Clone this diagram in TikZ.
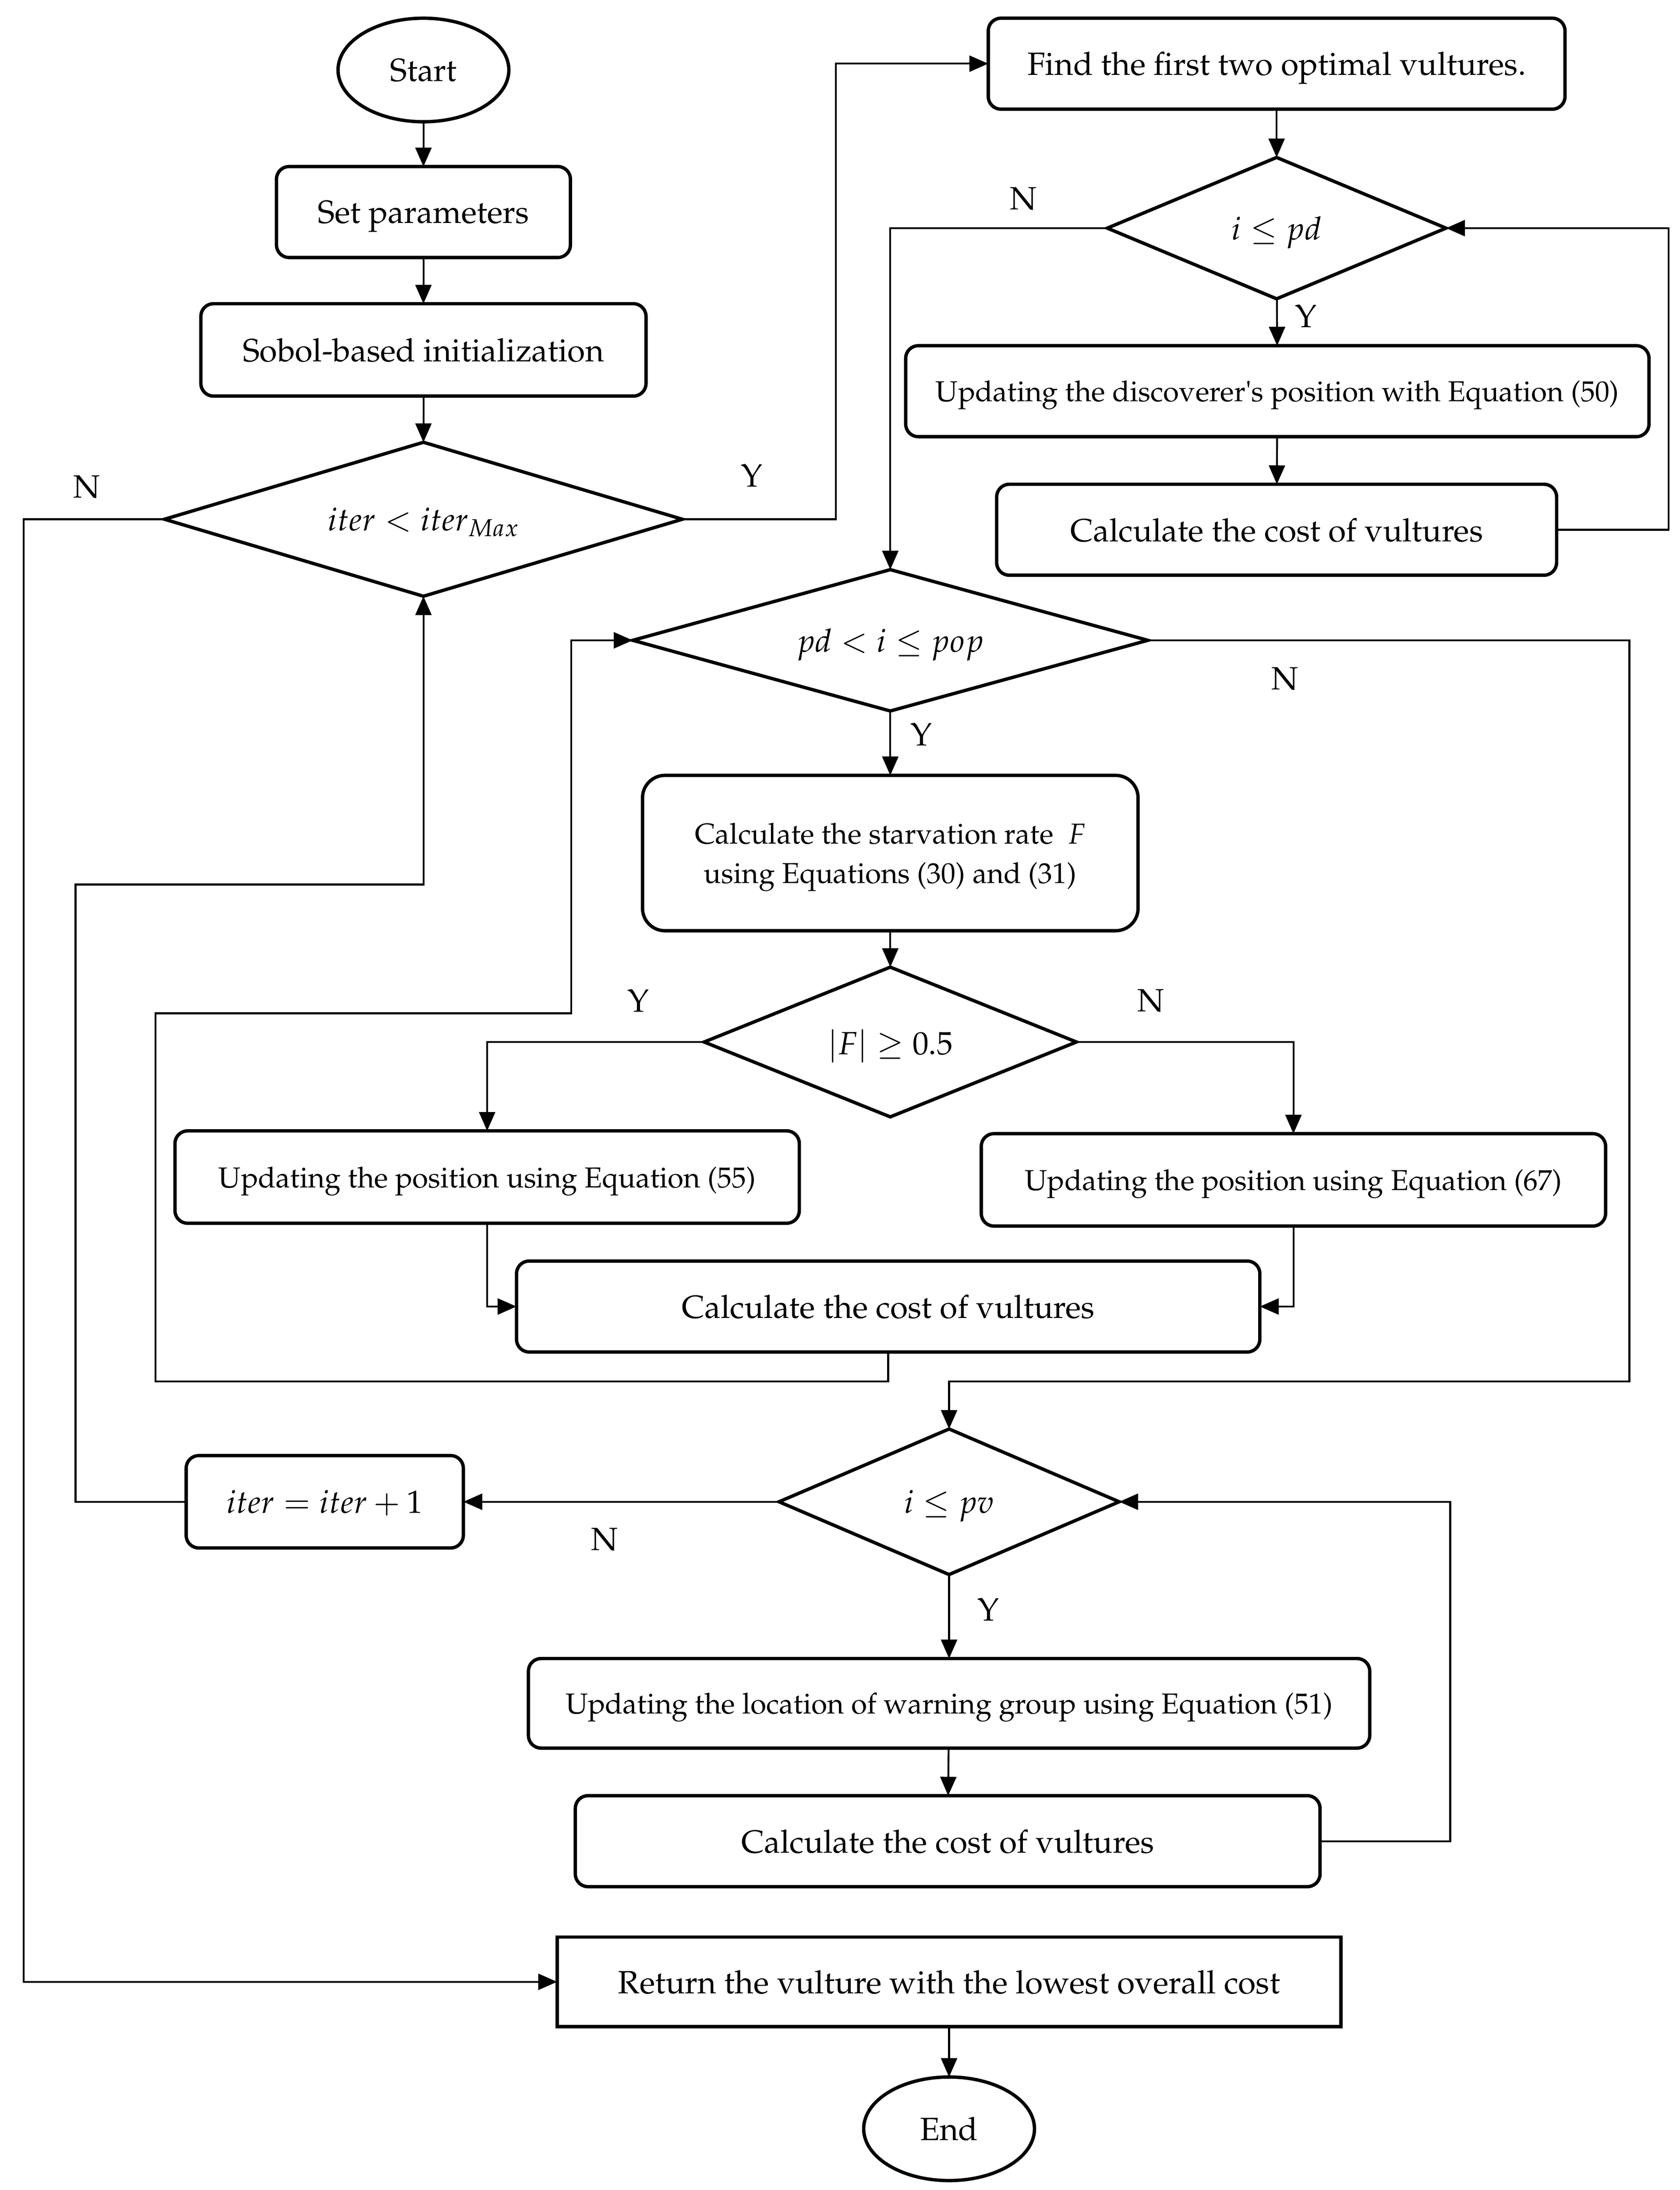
\documentclass[tikz,border=0pt]{standalone}
\usepackage[T1]{fontenc}
\usepackage{mathpazo}
\usepackage{textcomp}
\usetikzlibrary{shapes.geometric,arrows.meta}
\begin{document}
\begin{tikzpicture}[x=1pt,y=-1pt,
  every node/.style={font=\fontsize{23}{28}\selectfont},
  box/.style={draw,line width=2.4pt,rounded corners=9pt,inner sep=0pt,outer sep=0pt,align=center,text depth=0pt},
  sbox/.style={box,font=\fontsize{20.6}{28}\selectfont},
  dia/.style={draw,diamond,line width=2.4pt,inner sep=0pt,outer sep=0pt,text depth=0pt},
  term/.style={draw,ellipse,line width=2.4pt,inner sep=0pt,outer sep=0pt,minimum width=122pt,minimum height=74pt,text depth=0pt},
  lbl/.style={inner sep=0pt},
  conn/.style={line width=1.3pt},
  arr/.style={conn,-{Triangle[length=13.5pt,width=11.5pt]}}]
\useasboundingbox (0,0) rectangle (1200,1564.75);
% nodes
\node[term] (start) at (302.5,50) {Start};
\node[box,minimum width=210pt,minimum height=65pt] (setp) at (302.5,151.5) {Set parameters};
\node[box,minimum width=318pt,minimum height=66pt] (sobol) at (302.5,250) {Sobol-based initialization};
\node[dia,aspect=3.36,minimum width=370pt,minimum height=110pt] (d1) at (302.5,371) {$iter < iter_{Max}$};
\node[box,minimum width=412pt,minimum height=65pt] (find) at (912,45.5) {Find the first two optimal vultures.};
\node[dia,aspect=2.4,minimum width=242pt,minimum height=101pt] (d2) at (912,163) {$i \leq pd$};
\node[sbox,minimum width=531pt,minimum height=65pt] (disc) at (912.5,279.5) {Updating the discoverer\textquotesingle s position with Equation (50)};
\node[box,minimum width=400pt,minimum height=65pt] (calc1) at (912,378.5) {Calculate the cost of vultures};
\node[dia,aspect=3.64,minimum width=368pt,minimum height=101pt] (d3) at (636,457.5) {$pd < i \leq pop$};
\node[sbox,minimum width=354pt,minimum height=111pt,rounded corners=16pt] (starv) at (636,609.5) {Calculate the starvation rate~ $F$\\ using Equations (30) and (31)};
\node[dia,aspect=2.49,minimum width=266pt,minimum height=107pt] (d4) at (636,744.5) {$|F| \geq 0.5$};
\node[sbox,minimum width=446pt,minimum height=66pt] (up55) at (348,841) {Updating the position using Equation (55)};
\node[sbox,minimum width=446pt,minimum height=66pt] (up67) at (924,843) {Updating the position using Equation (67)};
\node[box,minimum width=531pt,minimum height=65pt] (calc2) at (634.5,933.5) {Calculate the cost of vultures};
\node[dia,aspect=2.34,minimum width=243pt,minimum height=104pt] (d5) at (678,1073) {$i \leq pv$};
\node[box,minimum width=198pt,minimum height=66pt] (iter) at (232,1073) {$iter = iter + 1$};
\node[sbox,minimum width=601pt,minimum height=64pt] (up51) at (678,1217) {Updating the location of warning group using Equation (51)};
\node[box,minimum width=532pt,minimum height=65pt] (calc3) at (677,1315.5) {Calculate the cost of vultures};
\node[box,rounded corners=0pt,minimum width=560pt,minimum height=64pt] (ret) at (678,1416) {Return the vulture with the lowest overall cost};
\node[term] (end) at (678,1521) {End};
% labels
\node[lbl] (l1) at (62,348) {N};
\node[lbl] (l2) at (537,340) {Y};
\node[lbl] (l3) at (731,142) {N};
\node[lbl] (l4) at (933,226) {Y};
\node[lbl] (l5) at (918,485) {N};
\node[lbl] (l6) at (658,525) {Y};
\node[lbl] (l7) at (456,715) {Y};
\node[lbl] (l8) at (822,715) {N};
\node[lbl] (l9) at (432,1100) {N};
\node[lbl] (l10) at (706,1150) {Y};
% helper coordinates
\coordinate (nL) at (17,371);
\coordinate (yR) at (597,371);
\coordinate (r1) at (1192,378.5);
\coordinate (c1) at (1164,987);
\coordinate (a1) at (111,987);
\coordinate (b1) at (408,724);
\coordinate (it1) at (54,632);
\coordinate (r3) at (1036,1315.5);
% connectors
\draw[arr] (start) -- (setp);
\draw[arr] (setp) -- (sobol);
\draw[arr] (sobol) -- (d1);
\draw[arr] (d1.west) -- (nL) |- (ret.west);
\draw[arr] (d1.east) -- (yR) |- (find.west);
\draw[arr] (find) -- (d2);
\draw[arr] (d2.west) -| (d3.north);
\draw[arr] (d2) -- (disc);
\draw[arr] (disc) -- (calc1);
\draw[arr] (calc1.east) -- (r1) |- (d2.east);
\draw[arr] (d3.east) -| (c1) -| (d5.north);
\draw[arr] (d3) -- (starv);
\draw[arr] (starv) -- (d4);
\draw[arr] (d4.west) -| (up55.north);
\draw[arr] (d4.east) -| (up67.north);
\draw[arr] (up55.south) |- (calc2.west);
\draw[arr] (up67.south) |- (calc2.east);
\draw[arr] (calc2.south) |- (a1) |- (b1) |- (d3.west);
\draw[arr] (d5.west) -- (iter.east);
\draw[arr] (iter.west) -| (it1) -| (d1.south);
\draw[arr] (d5) -- (up51);
\draw[arr] (up51) -- (calc3);
\draw[arr] (calc3.east) -- (r3) |- (d5.east);
\draw[arr] (ret) -- (end);
\end{tikzpicture}
\end{document}
